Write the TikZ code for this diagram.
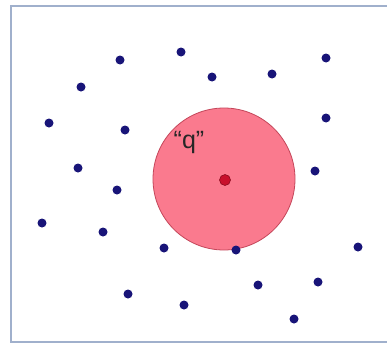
\documentclass[tikz,border=0pt]{standalone}
\usepackage{fontspec}
\setmainfont{Liberation Sans}
\usetikzlibrary{positioning}
\definecolor{FrameBlue}{RGB}{160,176,204}
\definecolor{BallPink}{RGB}{250,122,142}
\definecolor{BallEdge}{RGB}{196,70,90}
\definecolor{DotNavy}{RGB}{24,20,120}
\definecolor{CoreRed}{RGB}{200,16,44}
\tikzset{
  frame/.style={draw=FrameBlue,line width=1.6pt},
  pt/.style={circle,fill=DotNavy,inner sep=0pt,minimum size=9pt},
  qball/.style={circle,draw=BallEdge,fill=BallPink,line width=0.8pt,
                inner sep=0pt,minimum size=142pt},
  core/.style={circle,draw=CoreRed!70!black,fill=CoreRed,line width=0.6pt,
               inner sep=0pt,minimum size=11pt},
}

\begin{document}
\begin{tikzpicture}[x=1pt,y=-1pt]
    \useasboundingbox (0,0) rectangle (387,345);
    \fill[white] (0,0) rectangle (387,345);
    % Frame
    \draw[frame] (11,6) rectangle (395,342);

    % Query region
    \node[qball] (q) at (224,179) {};
    \node[core] (c) at (225,180) {};
    \node[font=\fontsize{25}{29}\selectfont, text=black!85, anchor=base] (qlabel) at (189,148) {“q”};

    % Data points
    \foreach \x/\y [count=\i] in {120/60, 181/52, 212/77, 272/74, 326/58,
                                  81/87, 49/123, 125/130, 326/118, 78/168,
                                  315/171, 117/190, 42/223, 103/232, 164/248,
                                  236/250, 358/247, 128/294, 184/305, 258/285,
                                  318/282, 294/319}
        \node[pt] (p\i) at (\x,\y) {};
\end{tikzpicture}
\end{document}
